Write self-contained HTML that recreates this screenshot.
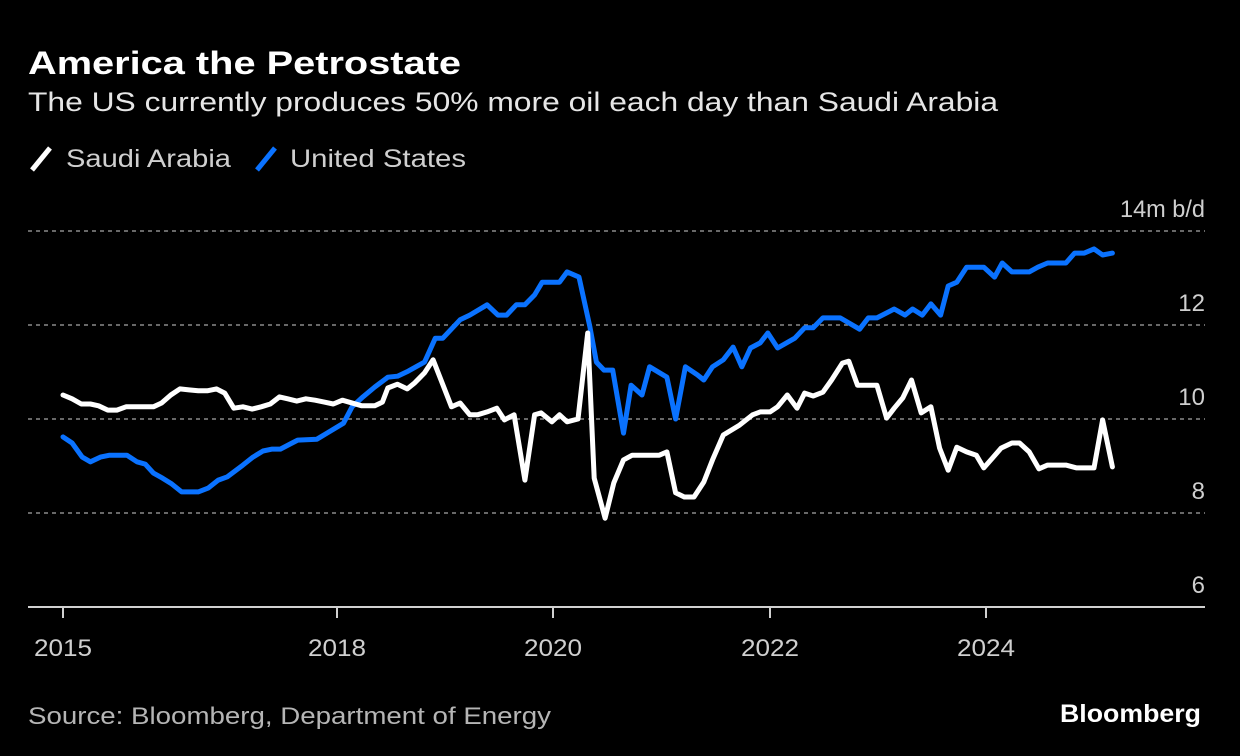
<!DOCTYPE html>
<html><head><meta charset="utf-8"><style>
body{margin:0;background:#000;width:1240px;height:756px;overflow:hidden;font-family:"Liberation Sans",sans-serif}
svg{display:block}
</style></head><body>
<svg width="1240" height="756">
<text x="28" y="74" fill="#fff" font-size="32" font-weight="bold" textLength="433" lengthAdjust="spacingAndGlyphs">America the Petrostate</text>
<text x="28" y="111" fill="#e6e6e6" font-size="27" textLength="970" lengthAdjust="spacingAndGlyphs">The US currently produces 50% more oil each day than Saudi Arabia</text>
<g>
<line x1="32" y1="170" x2="50" y2="148" stroke="#fff" stroke-width="5"/>
<text x="66" y="167" fill="#cfcfcf" font-size="25" textLength="165" lengthAdjust="spacingAndGlyphs">Saudi Arabia</text>
<line x1="257" y1="170" x2="275" y2="148" stroke="#0a72ff" stroke-width="5"/>
<text x="290" y="167" fill="#cfcfcf" font-size="25" textLength="176" lengthAdjust="spacingAndGlyphs">United States</text>
</g>
<g id="grid"></g><g id="axes"></g><g id="series"></g>
<text x="28" y="724" fill="#b5b5b5" font-size="24" textLength="523" lengthAdjust="spacingAndGlyphs">Source: Bloomberg, Department of Energy</text>
<text x="1060" y="722" fill="#fff" font-size="25" font-weight="bold" textLength="141" lengthAdjust="spacingAndGlyphs">Bloomberg</text>
</svg>
<script>
const yTicks=[6,8,10,12,14];
const yTickLabels=["6","8","10","12","14m b/d"];
const xTicks=[2015,2018,2020,2022,2024];
const saudiYears=[2015.00,2015.10,2015.20,2015.30,2015.39,2015.49,2015.59,2015.69,2015.89,2015.99,2016.08,2016.18,2016.28,2016.38,2016.48,2016.58,2016.68,2016.77,2016.87,2016.97,2017.07,2017.17,2017.27,2017.37,2017.46,2017.56,2017.66,2017.76,2017.86,2017.96,2018.05,2018.23,2018.35,2018.42,2018.47,2018.56,2018.65,2018.72,2018.81,2018.89,2019.06,2019.14,2019.23,2019.30,2019.39,2019.48,2019.55,2019.64,2019.74,2019.83,2019.89,2019.99,2020.06,2020.13,2020.23,2020.32,2020.38,2020.48,2020.56,2020.65,2020.73,2020.98,2021.05,2021.13,2021.21,2021.30,2021.39,2021.47,2021.57,2021.72,2021.84,2021.91,2022.00,2022.07,2022.16,2022.25,2022.32,2022.40,2022.49,2022.57,2022.67,2022.73,2022.81,2022.99,2023.08,2023.15,2023.23,2023.31,2023.40,2023.49,2023.57,2023.65,2023.73,2023.82,2023.91,2023.98,2024.06,2024.14,2024.24,2024.31,2024.40,2024.49,2024.57,2024.74,2024.84,2025.00,2025.08,2025.17];
const saudiValues=[10.51,10.43,10.32,10.32,10.28,10.19,10.19,10.26,10.26,10.26,10.34,10.51,10.64,10.62,10.60,10.60,10.64,10.55,10.23,10.26,10.21,10.26,10.32,10.47,10.43,10.38,10.43,10.40,10.36,10.32,10.40,10.28,10.28,10.36,10.66,10.74,10.64,10.77,10.98,11.26,10.26,10.34,10.09,10.09,10.15,10.23,9.98,10.09,8.70,10.09,10.13,9.94,10.09,9.94,10.00,11.83,8.74,7.89,8.64,9.13,9.23,9.23,9.30,8.43,8.34,8.34,8.66,9.13,9.66,9.87,10.09,10.15,10.15,10.26,10.51,10.23,10.55,10.49,10.57,10.83,11.19,11.23,10.72,10.72,10.02,10.23,10.45,10.83,10.13,10.26,9.38,8.91,9.40,9.30,9.23,8.96,9.17,9.38,9.49,9.49,9.30,8.94,9.02,9.02,8.96,8.96,9.98,8.98];
const usYears=[2015.00,2015.10,2015.21,2015.30,2015.41,2015.51,2015.70,2015.81,2015.90,2015.99,2016.09,2016.19,2016.30,2016.48,2016.59,2016.70,2016.80,2016.97,2017.08,2017.19,2017.29,2017.38,2017.49,2017.57,2017.78,2017.89,2018.06,2018.14,2018.24,2018.35,2018.47,2018.56,2018.66,2018.81,2018.91,2018.98,2019.14,2019.23,2019.39,2019.49,2019.57,2019.66,2019.74,2019.83,2019.90,2020.06,2020.13,2020.24,2020.34,2020.40,2020.47,2020.55,2020.65,2020.72,2020.82,2020.89,2021.05,2021.13,2021.22,2021.33,2021.39,2021.47,2021.57,2021.66,2021.74,2021.82,2021.91,2021.98,2022.07,2022.23,2022.32,2022.40,2022.49,2022.65,2022.83,2022.91,2022.99,2023.15,2023.25,2023.32,2023.41,2023.49,2023.58,2023.65,2023.73,2023.82,2023.98,2024.08,2024.15,2024.24,2024.40,2024.48,2024.57,2024.74,2024.82,2024.91,2025.00,2025.08,2025.17];
const usValues=[9.62,9.49,9.19,9.09,9.19,9.23,9.23,9.09,9.04,8.85,8.74,8.62,8.45,8.45,8.53,8.70,8.77,9.02,9.19,9.32,9.36,9.36,9.47,9.55,9.57,9.70,9.91,10.26,10.47,10.68,10.89,10.91,11.02,11.21,11.72,11.72,12.11,12.21,12.43,12.21,12.21,12.43,12.43,12.64,12.91,12.91,13.13,13.02,11.96,11.21,11.04,11.04,9.70,10.72,10.51,11.11,10.89,10.00,11.11,10.94,10.83,11.11,11.26,11.53,11.11,11.51,11.62,11.83,11.51,11.72,11.94,11.94,12.15,12.15,11.91,12.15,12.15,12.34,12.21,12.34,12.21,12.45,12.21,12.83,12.91,13.23,13.23,13.02,13.32,13.13,13.13,13.23,13.32,13.32,13.53,13.53,13.62,13.49,13.53];

const NS="http://www.w3.org/2000/svg";
const xStops=[[2015,63],[2018,337],[2020,553],[2022,770],[2024,986]];
function xScale(t){
  for(let i=0;i<xStops.length-1;i++){const a=xStops[i],b=xStops[i+1];if(t<=b[0])return a[1]+(t-a[0])/(b[0]-a[0])*(b[1]-a[1]);}
  const a=xStops[xStops.length-2],b=xStops[xStops.length-1];return b[1]+(t-b[0])/(b[0]-a[0])*(b[1]-a[1]);
}
function yScale(v){return 607-(v-6)*47;}
function mk(tag,attrs,parent){const e=document.createElementNS(NS,tag);for(const k in attrs)e.setAttribute(k,attrs[k]);parent.appendChild(e);return e;}
const grid=document.getElementById('grid'),axes=document.getElementById('axes'),series=document.getElementById('series');
yTicks.forEach((v,i)=>{
  if(v>6){const l=mk('line',{x1:28,x2:1205,y1:yScale(v),y2:yScale(v),stroke:'#8a8a8a','stroke-width':1.5,'stroke-dasharray':'4 4'},grid);
  
  }
  const attrs={x:1205,y:yScale(v)-14,fill:'#cfcfcf','font-size':24,'text-anchor':'end'};
  if(v===14){attrs.textLength=85;attrs.lengthAdjust='spacingAndGlyphs';}
  const t=mk('text',attrs,axes);t.textContent=yTickLabels[i];
  
  
});
const base=mk('line',{x1:28,x2:1205,y1:607,y2:607,stroke:'#d0d0d0','stroke-width':2},axes);


xTicks.forEach(y=>{
  const x=xScale(y);
  const tk=mk('line',{x1:x,x2:x,y1:607,y2:618,stroke:'#d0d0d0','stroke-width':2},axes);
  
  
  const t=mk('text',{x:x,y:656,fill:'#cfcfcf','font-size':24,'text-anchor':'middle',textLength:58,lengthAdjust:'spacingAndGlyphs'},axes);t.textContent=y;
  
  
});
function draw(xs,vs,color,name){
  const d=xs.map((t,i)=>(i?'L':'M')+xScale(t).toFixed(1)+','+yScale(vs[i]).toFixed(1)).join('');
  const p=mk('path',{d:d,fill:'none',stroke:color,'stroke-width':5,'stroke-linejoin':'round','stroke-linecap':'round'},series);
  
  
}
draw(usYears,usValues,'#0a72ff','us-line');
draw(saudiYears,saudiValues,'#ffffff','saudi-line');
</script>
</body></html>
